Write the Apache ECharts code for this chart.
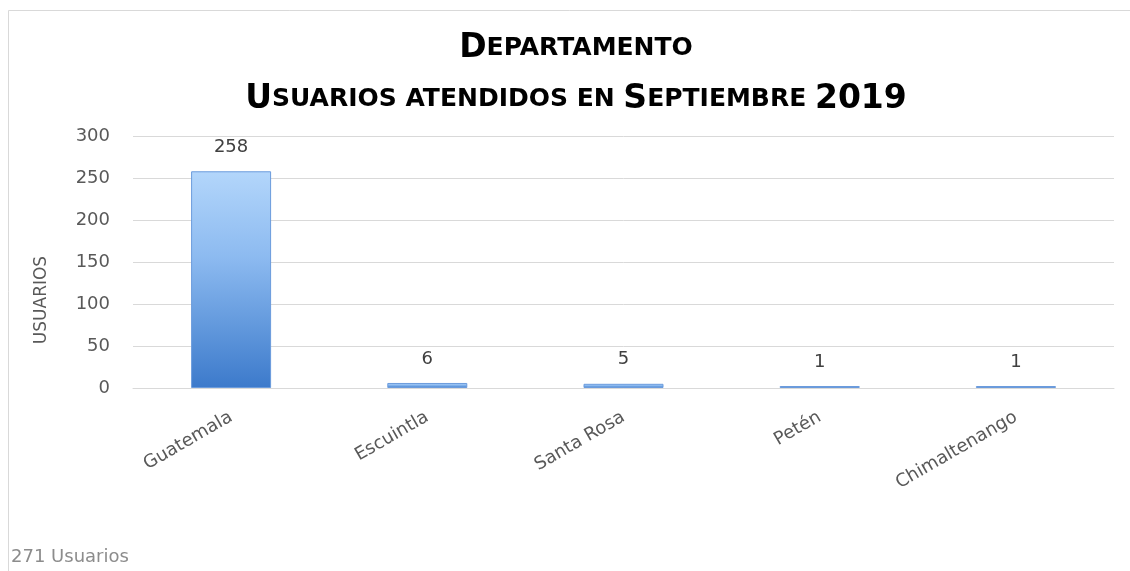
<!DOCTYPE html>
<html>
<head>
<meta charset="utf-8">
<script src="https://cdn.jsdelivr.net/npm/echarts@6/dist/echarts.min.js"></script>
<style>
  html, body { margin: 0; padding: 0; background: #fff; }
  #chart { width: 1130px; height: 571px; }
</style>
</head>
<body>
<div id="chart"></div>
<script>
// datos del grafico
var departamentos = ['Guatemala', 'Escuintla', 'Santa Rosa', 'Petén', 'Chimaltenango'];
var usuarios = [258, 6, 5, 1, 1];
var totalTexto = '271 Usuarios';

var chart = echarts.init(document.getElementById('chart'));

var option = {
	animation: false,
	backgroundColor: '#fff',
	title: {
		text: '{b|D}{s|EPARTAMENTO}\n{b|U}{s|SUARIOS ATENDIDOS EN }{b|S}{s|EPTIEMBRE }{b|2019}',
		left: 571,
		textAlign: 'center',
		top: 18,
		textStyle: {
			rich: {
				b: { fontFamily: 'DejaVu Sans', fontWeight: 'bold', fontSize: 33, color: '#000', lineHeight: 51 },
				s: { fontFamily: 'DejaVu Sans', fontWeight: 'bold', fontSize: 25, color: '#000', lineHeight: 51 }
			}
		}
	},
	graphic: [
		{
			type: 'rect',
			shape: { x: 8.5, y: 10.5, width: 1140, height: 600 },
			style: { fill: 'none', stroke: '#d9d9d9', lineWidth: 1 },
			silent: true
		},
		{
			type: 'text',
			left: 11,
			top: 548,
			style: { text: totalTexto, fill: '#8c8c8c', fontSize: 18, fontFamily: 'DejaVu Sans' }
		}
	],
	grid: { left: 133, right: 16, top: 136, bottom: 183 },
	xAxis: {
		type: 'category',
		data: departamentos,
		axisLine: { lineStyle: { color: '#d9d9d9' } },
		axisTick: { show: false },
		axisLabel: {
			rotate: 30,
			margin: 28,
			color: '#595959',
			fontSize: 18,
			fontFamily: 'DejaVu Sans'
		}
	},
	yAxis: {
		type: 'value',
		min: 0,
		max: 300,
		interval: 50,
		name: 'USUARIOS',
		nameLocation: 'middle',
		nameGap: 83,
		nameTextStyle: { color: '#595959', fontSize: 17, fontFamily: 'DejaVu Sans', padding: [0, 76, 0, 0] },
		axisLine: { show: false },
		axisTick: { show: false },
		splitLine: { lineStyle: { color: '#d9d9d9' } },
		axisLabel: { color: '#595959', fontSize: 18, fontFamily: 'DejaVu Sans', margin: 23 }
	},
	series: [{
		type: 'bar',
		data: usuarios,
		barWidth: 80,
		barMinHeight: 2,
		itemStyle: {
			color: new echarts.graphic.LinearGradient(0, 0, 0, 1, [
				{ offset: 0, color: '#b3d6fb' },
				{ offset: 0.4, color: '#8cbaf0' },
				{ offset: 1, color: '#3c7acb' }
			]),
			borderColor: '#6b9bdc',
			borderWidth: 1
		},
		label: {
			show: true,
			position: 'top',
			distance: 15,
			color: '#404040',
			fontSize: 18,
			fontFamily: 'DejaVu Sans'
		}
	}]
};

chart.setOption(option);
window.onresize = chart.resize;
</script>
</body>
</html>
